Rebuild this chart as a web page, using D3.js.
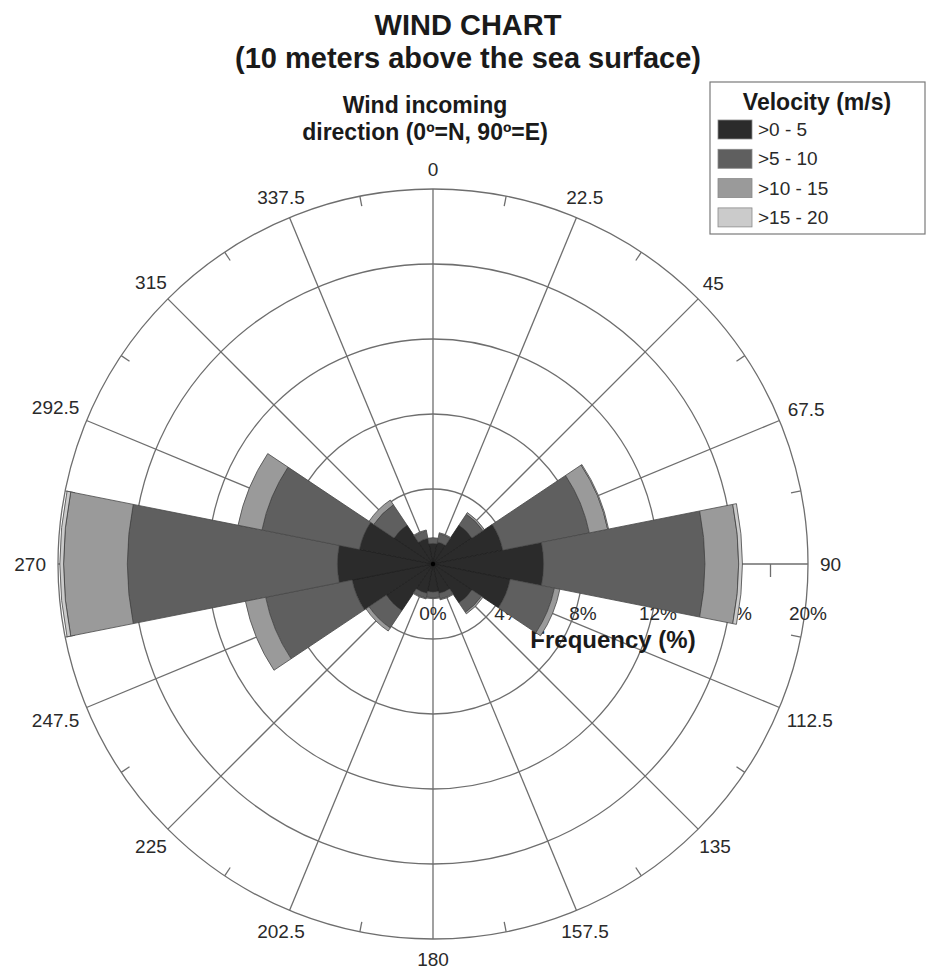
<!DOCTYPE html>
<html>
<head>
<meta charset="utf-8">
<script src="https://cdn.jsdelivr.net/npm/d3@7"></script>
<style>
  body { margin: 0; background: #fff; }
  svg { display: block; }
  text { font-family: "Liberation Sans", Arial, Helvetica, sans-serif; fill: #2a2a2a; }
</style>
</head>
<body>
<svg id="chart" width="931" height="978"></svg>
<script>
// Wind incoming direction (degrees, 0 = N, 90 = E)
const directions = [0, 22.5, 45, 67.5, 90, 112.5, 135, 157.5, 180, 202.5, 225, 247.5, 270, 292.5, 315, 337.5];
const directionLabels = ["0", "22.5", "45", "67.5", "90", "112.5", "135", "157.5", "180", "202.5", "225", "247.5", "270", "292.5", "315", "337.5"];

// Velocity classes (m/s)
const velocityClasses = [">0 - 5", ">5 - 10", ">10 - 15", ">15 - 20"];

// Frequency (%) of each velocity class per direction
const freqV0to5   = [1.1, 1.2, 2.5, 3.8, 5.9, 4.2, 2.5, 1.6, 1.5, 1.6, 3.0, 4.4, 5.1, 4.0, 2.5, 1.4];
const freqV5to10  = [0.3, 0.45, 0.7, 4.7, 8.6, 2.4, 0.6, 0.3, 0.3, 0.25, 1.1, 4.7, 11.2, 5.3, 1.3, 0.4];
const freqV10to15 = [0, 0.05, 0.1, 1.0, 1.8, 0.3, 0.1, 0.05, 0.05, 0.05, 0.2, 1.1, 3.4, 1.3, 0.3, 0.05];
const freqV15to20 = [0, 0, 0, 0.05, 0.2, 0, 0, 0, 0, 0, 0, 0, 0.2, 0, 0, 0];

// Radial frequency axis (%)
const radialTicks = [0, 4, 8, 12, 16, 20];
const radialMinorTicks = [2, 6, 10, 14, 18];

const classColors = ["#2b2b2b", "#5f5f5f", "#9a9a9a", "#cbcbcb"];

const svg = d3.select("#chart");
const cx = 433, cy = 564, R = 375;
const toRad = d => d * Math.PI / 180;

const r = d3.scaleLinear().domain([0, 20]).range([0, R]);
const color = d3.scaleOrdinal().domain(velocityClasses).range(classColors);

// Titles
svg.append("text").attr("x", 468).attr("y", 35).attr("text-anchor", "middle")
  .style("font-size", "29px").style("font-weight", "bold").style("fill", "#1a1a1a").text("WIND CHART");
svg.append("text").attr("x", 468).attr("y", 68).attr("text-anchor", "middle")
  .style("font-size", "29px").style("font-weight", "bold").style("fill", "#1a1a1a").text("(10 meters above the sea surface)");

svg.append("text").attr("x", 425).attr("y", 113).attr("text-anchor", "middle")
  .style("font-size", "23px").style("font-weight", "bold").style("fill", "#1a1a1a").text("Wind incoming");
svg.append("text").attr("x", 425).attr("y", 140).attr("text-anchor", "middle")
  .style("font-size", "23px").style("font-weight", "bold").style("fill", "#1a1a1a").text("direction (0\u00BA=N, 90\u00BA=E)");

const plot = svg.append("g").attr("transform", `translate(${cx},${cy})`);

// Grid: rings and spokes
const grid = plot.append("g").attr("fill", "none").attr("stroke", "#6e6e6e").attr("stroke-width", 1.3);
grid.selectAll("circle").data(radialTicks.filter(d => d > 0)).join("circle").attr("r", d => r(d));
grid.selectAll("line.spoke").data(directions).join("line").attr("class", "spoke")
  .attr("x1", 0).attr("y1", 0)
  .attr("x2", d => r(20) * Math.sin(toRad(d)))
  .attr("y2", d => -r(20) * Math.cos(toRad(d)));

// Minor ticks on the outer ring, midway between spokes
grid.selectAll("line.minor").data(directions.map(d => d + 11.25)).join("line").attr("class", "minor")
  .attr("x1", d => r(20) * Math.sin(toRad(d)))
  .attr("y1", d => -r(20) * Math.cos(toRad(d)))
  .attr("x2", d => (r(20) - 10) * Math.sin(toRad(d)))
  .attr("y2", d => -(r(20) - 10) * Math.cos(toRad(d)));

// Minor ticks on the frequency axis (along 90°)
grid.selectAll("line.rtick").data(radialMinorTicks).join("line").attr("class", "rtick")
  .attr("x1", d => r(d)).attr("x2", d => r(d)).attr("y1", 0).attr("y2", 13);

// Frequency axis labels
plot.selectAll("text.rlabel").data(radialTicks).join("text").attr("class", "rlabel")
  .attr("x", d => r(d)).attr("y", 56).attr("text-anchor", "middle")
  .style("font-size", "19px").text(d => d + "%");
plot.append("text").attr("x", 180).attr("y", 84).attr("text-anchor", "middle")
  .style("font-size", "24px").style("font-weight", "bold").style("fill", "#1a1a1a").text("Frequency (%)");

// Stacked sectors
const rows = directions.map((d, i) => ({
  dir: d,
  [velocityClasses[0]]: freqV0to5[i],
  [velocityClasses[1]]: freqV5to10[i],
  [velocityClasses[2]]: freqV10to15[i],
  [velocityClasses[3]]: freqV15to20[i]
}));
const series = d3.stack().keys(velocityClasses)(rows);

const halfWidth = 11.25;
const arc = d3.arc()
  .innerRadius(d => r(d[0]))
  .outerRadius(d => r(d[1]))
  .startAngle(d => toRad(d.data.dir - halfWidth))
  .endAngle(d => toRad(d.data.dir + halfWidth));

plot.append("g").selectAll("g").data(series).join("g")
  .attr("fill", s => color(s.key))
  .attr("stroke", (s, i) => i === 0 ? "#1e1e1e" : "#474747")
  .attr("stroke-width", 0.8)
  .selectAll("path").data(s => s.filter(d => d[1] - d[0] > 0)).join("path")
  .attr("d", arc);

plot.append("circle").attr("r", 2.2).attr("fill", "#000");

// Direction labels around the outer ring
const dirText = plot.selectAll("text.dlabel").data(directions).join("text").attr("class", "dlabel")
  .attr("text-anchor", "middle").attr("dy", "0.35em")
  .style("font-size", "19px").text((d, i) => directionLabels[i]);
dirText.each(function(d) {
  const w = this.getComputedTextLength();
  const s = Math.sin(toRad(d)), c = Math.cos(toRad(d));
  const rr = R + 12 + s * s * w / 2 + c * c * 8;
  d3.select(this).attr("x", rr * s).attr("y", -rr * c);
});

// Legend
const lg = svg.append("g").attr("transform", "translate(710,82)");
lg.append("rect").attr("width", 215).attr("height", 152)
  .attr("fill", "#fff").attr("stroke", "#7a7a7a").attr("stroke-width", 1.2);
lg.append("text").attr("x", 107).attr("y", 28).attr("text-anchor", "middle")
  .style("font-size", "23px").style("font-weight", "bold").style("fill", "#1a1a1a").text("Velocity (m/s)");
const item = lg.selectAll("g.item").data(velocityClasses).join("g").attr("class", "item")
  .attr("transform", (d, i) => `translate(8,${38 + i * 29.3})`);
item.append("rect").attr("width", 34).attr("height", 19)
  .attr("fill", d => color(d)).attr("stroke", "#8a8a8a").attr("stroke-width", 0.8);
item.append("text").attr("x", 40).attr("y", 16).style("font-size", "19px").text(d => d);
</script>
</body>
</html>
